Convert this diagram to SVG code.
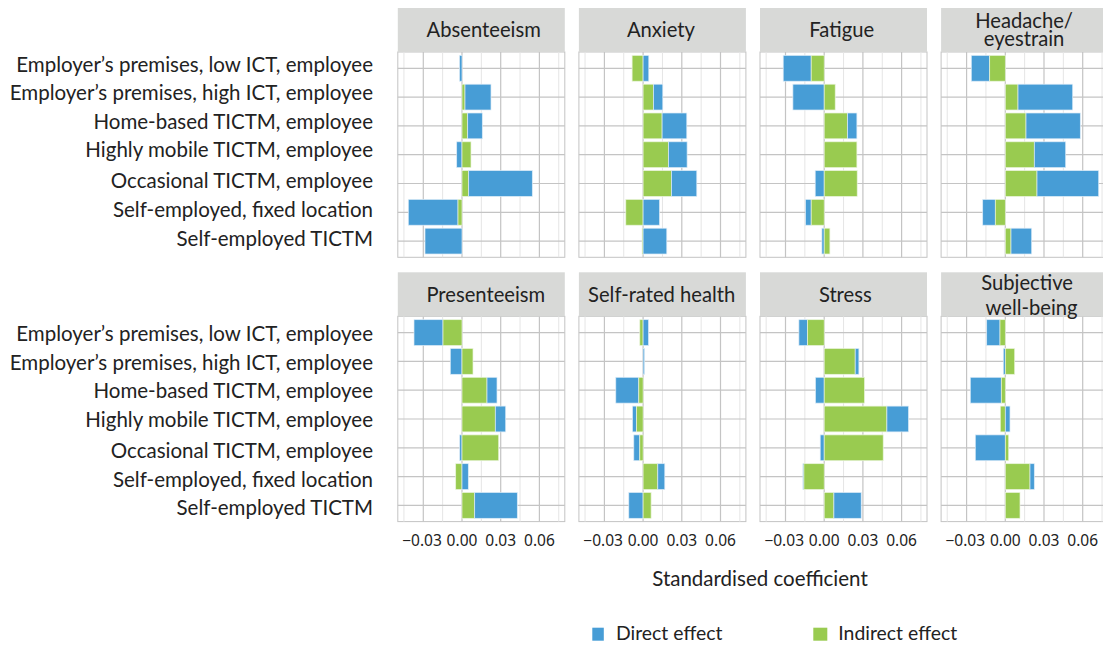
<svg xmlns="http://www.w3.org/2000/svg" width="1103" height="646" viewBox="0 0 1103 646">
<defs>
<style>
text{font-family:Lato,"Liberation Sans",sans-serif;fill:#222}
.ylab{font-size:20.5px;text-anchor:end}
.hdr{font-size:20.2px;text-anchor:middle}
.tick{font-family:"Noto Sans","Open Sans",sans-serif;font-size:15.5px;text-anchor:middle}
.ttl{font-size:20.5px;text-anchor:middle}
.leg{font-size:19.4px}
.strip{fill:#d8d9d7}
.bg{fill:#fff;stroke:#c4c4c4;stroke-width:1}
.maj{stroke:#c4c4c4;stroke-width:1.2}
.min{stroke:#e5e5e5;stroke-width:1}
.d{fill:#479dd6;stroke:#dcecf7;stroke-width:0.7}
.i{fill:#99cb50;stroke:#eaf4dc;stroke-width:0.7}
</style>
<g id="grid">
<rect class="bg" x="0" y="44" width="167" height="205.3"/>
<line class="min" x1="6.15" y1="44" x2="6.15" y2="249.3"/>
<line class="min" x1="44.85" y1="44" x2="44.85" y2="249.3"/>
<line class="min" x1="83.55" y1="44" x2="83.55" y2="249.3"/>
<line class="min" x1="122.25" y1="44" x2="122.25" y2="249.3"/>
<line class="min" x1="160.95" y1="44" x2="160.95" y2="249.3"/>
<line class="maj" x1="25.5" y1="44" x2="25.5" y2="249.3"/>
<line class="maj" x1="64.2" y1="44" x2="64.2" y2="249.3"/>
<line class="maj" x1="102.9" y1="44" x2="102.9" y2="249.3"/>
<line class="maj" x1="141.6" y1="44" x2="141.6" y2="249.3"/>
<line class="maj" x1="0" y1="60.3" x2="167" y2="60.3"/>
<line class="maj" x1="0" y1="89.1" x2="167" y2="89.1"/>
<line class="maj" x1="0" y1="117.9" x2="167" y2="117.9"/>
<line class="maj" x1="0" y1="146.7" x2="167" y2="146.7"/>
<line class="maj" x1="0" y1="175.5" x2="167" y2="175.5"/>
<line class="maj" x1="0" y1="204.3" x2="167" y2="204.3"/>
<line class="maj" x1="0" y1="233.1" x2="167" y2="233.1"/>
<rect class="strip" x="0" y="0" width="167" height="44"/>
</g>
</defs>

<g id="y-labels-top">
<text class="ylab" x="373" y="71.5">Employer’s premises, low ICT, employee</text>
<text class="ylab" x="373" y="100">Employer’s premises, high ICT, employee</text>
<text class="ylab" x="373" y="128.5">Home-based TICTM, employee</text>
<text class="ylab" x="373" y="157">Highly mobile TICTM, employee</text>
<text class="ylab" x="373" y="188">Occasional TICTM, employee</text>
<text class="ylab" x="373" y="216.5">Self-employed, fixed location</text>
<text class="ylab" x="373" y="245.5">Self-employed TICTM</text>
</g>
<g id="y-labels-bottom">
<text class="ylab" x="373" y="341">Employer’s premises, low ICT, employee</text>
<text class="ylab" x="373" y="369.5">Employer’s premises, high ICT, employee</text>
<text class="ylab" x="373" y="398">Home-based TICTM, employee</text>
<text class="ylab" x="373" y="426.5">Highly mobile TICTM, employee</text>
<text class="ylab" x="373" y="458">Occasional TICTM, employee</text>
<text class="ylab" x="373" y="486.5">Self-employed, fixed location</text>
<text class="ylab" x="373" y="515">Self-employed TICTM</text>
</g>

<g id="panel-absenteeism" transform="translate(397.8,8)">
<use href="#grid"/>
<g transform="translate(64.2,0)">
<rect class="d" x="-2.5" y="47.4" width="2.5" height="25.8"/>
<rect class="i" x="0" y="76.2" width="3" height="25.8"/><rect class="d" x="3" y="76.2" width="26" height="25.8"/>
<rect class="i" x="0" y="105" width="5.7" height="25.8"/><rect class="d" x="5.7" y="105" width="14.6" height="25.8"/>
<rect class="d" x="-5.3" y="133.8" width="5.3" height="25.8"/><rect class="i" x="0" y="133.8" width="9" height="25.8"/>
<rect class="i" x="0" y="162.6" width="6.7" height="25.8"/><rect class="d" x="6.7" y="162.6" width="63.6" height="25.8"/>
<rect class="d" x="-53.7" y="191.4" width="49.7" height="25.8"/><rect class="i" x="-4" y="191.4" width="4" height="25.8"/>
<rect class="d" x="-37" y="220.2" width="37" height="25.8"/>
</g>
<text class="hdr" x="85.9" y="29.3">Absenteeism</text>
</g>

<g id="panel-anxiety" transform="translate(578.9,8)">
<use href="#grid"/>
<g transform="translate(64.2,0)">
<rect class="i" x="-11" y="47.4" width="11" height="25.8"/><rect class="d" x="0" y="47.4" width="5.7" height="25.8"/>
<rect class="i" x="0" y="76.2" width="10.4" height="25.8"/><rect class="d" x="10.4" y="76.2" width="9.3" height="25.8"/>
<rect class="i" x="0" y="105" width="19" height="25.8"/><rect class="d" x="19" y="105" width="24.7" height="25.8"/>
<rect class="i" x="0" y="133.8" width="25.4" height="25.8"/><rect class="d" x="25.4" y="133.8" width="18.6" height="25.8"/>
<rect class="i" x="0" y="162.6" width="28.4" height="25.8"/><rect class="d" x="28.4" y="162.6" width="25.3" height="25.8"/>
<rect class="i" x="-17.3" y="191.4" width="17.3" height="25.8"/><rect class="d" x="0" y="191.4" width="16.4" height="25.8"/>
<rect class="i" x="-1" y="220.2" width="1" height="25.8"/><rect class="d" x="0" y="220.2" width="23.7" height="25.8"/>
</g>
<text class="hdr" x="82" y="29.3">Anxiety</text>
</g>

<g id="panel-fatigue" transform="translate(760,8)">
<use href="#grid"/>
<g transform="translate(64.2,0)">
<rect class="d" x="-41" y="47.4" width="28" height="25.8"/><rect class="i" x="-13" y="47.4" width="13" height="25.8"/>
<rect class="d" x="-31.3" y="76.2" width="31.3" height="25.8"/><rect class="i" x="0" y="76.2" width="11" height="25.8"/>
<rect class="i" x="0" y="105" width="23.3" height="25.8"/><rect class="d" x="23.3" y="105" width="9.4" height="25.8"/>
<rect class="i" x="0" y="133.8" width="32.7" height="25.8"/>
<rect class="d" x="-9" y="162.6" width="9" height="25.8"/><rect class="i" x="0" y="162.6" width="33" height="25.8"/>
<rect class="d" x="-18.7" y="191.4" width="5.7" height="25.8"/><rect class="i" x="-13" y="191.4" width="13" height="25.8"/>
<rect class="d" x="-2.3" y="220.2" width="2.3" height="25.8"/><rect class="i" x="0" y="220.2" width="5.7" height="25.8"/>
</g>
<text class="hdr" x="81.7" y="29.3">Fatigue</text>
</g>

<g id="panel-headache" transform="translate(941.1,8)">
<use href="#grid"/>
<g transform="translate(64.2,0)">
<rect class="d" x="-34" y="47.4" width="18.4" height="25.8"/><rect class="i" x="-15.6" y="47.4" width="15.6" height="25.8"/>
<rect class="i" x="0" y="76.2" width="12.7" height="25.8"/><rect class="d" x="12.7" y="76.2" width="54.7" height="25.8"/>
<rect class="i" x="0" y="105" width="20.7" height="25.8"/><rect class="d" x="20.7" y="105" width="54.3" height="25.8"/>
<rect class="i" x="0" y="133.8" width="29" height="25.8"/><rect class="d" x="29" y="133.8" width="31.4" height="25.8"/>
<rect class="i" x="0" y="162.6" width="31.7" height="25.8"/><rect class="d" x="31.7" y="162.6" width="61.7" height="25.8"/>
<rect class="d" x="-22.6" y="191.4" width="12.6" height="25.8"/><rect class="i" x="-10" y="191.4" width="10" height="25.8"/>
<rect class="i" x="0" y="220.2" width="5.7" height="25.8"/><rect class="d" x="5.7" y="220.2" width="20.7" height="25.8"/>
</g>
<text class="hdr" x="83" y="19.5">Headache/</text>
<text class="hdr" x="83" y="37.9">eyestrain</text>
</g>

<g id="panel-presenteeism" transform="translate(397.8,272.3)">
<use href="#grid"/>
<g transform="translate(64.2,0)">
<rect class="d" x="-48" y="47.4" width="29" height="25.8"/><rect class="i" x="-19" y="47.4" width="19" height="25.8"/>
<rect class="d" x="-11.7" y="76.2" width="11.7" height="25.8"/><rect class="i" x="0" y="76.2" width="11" height="25.8"/>
<rect class="i" x="0" y="105" width="25" height="25.8"/><rect class="d" x="25" y="105" width="10" height="25.8"/>
<rect class="i" x="0" y="133.8" width="33.3" height="25.8"/><rect class="d" x="33.3" y="133.8" width="10.4" height="25.8"/>
<rect class="d" x="-2.3" y="162.6" width="2.3" height="25.8"/><rect class="i" x="0" y="162.6" width="36.7" height="25.8"/>
<rect class="i" x="-6.3" y="191.4" width="6.3" height="25.8"/><rect class="d" x="0" y="191.4" width="6.3" height="25.8"/>
<rect class="i" x="0" y="220.2" width="12.7" height="25.8"/><rect class="d" x="12.7" y="220.2" width="42.6" height="25.8"/>
</g>
<text class="hdr" x="88" y="29.3">Presenteeism</text>
</g>

<g id="panel-self-rated-health" transform="translate(578.9,272.3)">
<use href="#grid"/>
<g transform="translate(64.2,0)">
<rect class="i" x="-3.3" y="47.4" width="3.3" height="25.8"/><rect class="d" x="0" y="47.4" width="5.4" height="25.8"/>
<rect class="d" x="0" y="76.2" width="1.4" height="25.8"/>
<rect class="d" x="-27.3" y="105" width="23" height="25.8"/><rect class="i" x="-4.3" y="105" width="4.3" height="25.8"/>
<rect class="d" x="-10.6" y="133.8" width="4" height="25.8"/><rect class="i" x="-6.6" y="133.8" width="6.6" height="25.8"/>
<rect class="d" x="-9.3" y="162.6" width="6" height="25.8"/><rect class="i" x="-3.3" y="162.6" width="3.3" height="25.8"/>
<rect class="i" x="0" y="191.4" width="14.7" height="25.8"/><rect class="d" x="14.7" y="191.4" width="7" height="25.8"/>
<rect class="d" x="-14.3" y="220.2" width="14.3" height="25.8"/><rect class="i" x="0" y="220.2" width="8" height="25.8"/>
</g>
<text class="hdr" x="82.8" y="29.3">Self-rated health</text>
</g>

<g id="panel-stress" transform="translate(760,272.3)">
<use href="#grid"/>
<g transform="translate(64.2,0)">
<rect class="d" x="-25.3" y="47.4" width="8.6" height="25.8"/><rect class="i" x="-16.7" y="47.4" width="16.7" height="25.8"/>
<rect class="i" x="0" y="76.2" width="31" height="25.8"/><rect class="d" x="31" y="76.2" width="3.7" height="25.8"/>
<rect class="d" x="-8.7" y="105" width="8.7" height="25.8"/><rect class="i" x="0" y="105" width="40.3" height="25.8"/>
<rect class="i" x="0" y="133.8" width="62.7" height="25.8"/><rect class="d" x="62.7" y="133.8" width="21.6" height="25.8"/>
<rect class="d" x="-4" y="162.6" width="4" height="25.8"/><rect class="i" x="0" y="162.6" width="59" height="25.8"/>
<rect class="d" x="-21.3" y="191.4" width="1" height="25.8"/><rect class="i" x="-20.3" y="191.4" width="20.3" height="25.8"/>
<rect class="i" x="0" y="220.2" width="9.7" height="25.8"/><rect class="d" x="9.7" y="220.2" width="27.3" height="25.8"/>
</g>
<text class="hdr" x="85.3" y="29.3">Stress</text>
</g>

<g id="panel-subjective-well-being" transform="translate(941.1,272.3)">
<use href="#grid"/>
<g transform="translate(64.2,0)">
<rect class="d" x="-18.6" y="47.4" width="13.3" height="25.8"/><rect class="i" x="-5.3" y="47.4" width="5.3" height="25.8"/>
<rect class="d" x="-2" y="76.2" width="2" height="25.8"/><rect class="i" x="0" y="76.2" width="9.4" height="25.8"/>
<rect class="d" x="-35" y="105" width="31" height="25.8"/><rect class="i" x="-4" y="105" width="4" height="25.8"/>
<rect class="i" x="-5" y="133.8" width="5" height="25.8"/><rect class="d" x="0" y="133.8" width="4.7" height="25.8"/>
<rect class="d" x="-30" y="162.6" width="30" height="25.8"/><rect class="i" x="0" y="162.6" width="3.4" height="25.8"/>
<rect class="i" x="0" y="191.4" width="24.7" height="25.8"/><rect class="d" x="24.7" y="191.4" width="4.3" height="25.8"/>
<rect class="i" x="0" y="220.2" width="14.7" height="25.8"/>
</g>
<text class="hdr" x="86" y="17.7">Subjective</text>
<text class="hdr" x="90.5" y="42.7">well-being</text>
</g>

<g id="x-axis-ticks">
<text class="tick" x="422" y="545.7">−0.03</text>
<text class="tick" x="462" y="545.7">0.00</text>
<text class="tick" x="500.7" y="545.7">0.03</text>
<text class="tick" x="539.4" y="545.7">0.06</text>
<text class="tick" x="603.1" y="545.7">−0.03</text>
<text class="tick" x="643.1" y="545.7">0.00</text>
<text class="tick" x="681.8" y="545.7">0.03</text>
<text class="tick" x="720.5" y="545.7">0.06</text>
<text class="tick" x="784.2" y="545.7">−0.03</text>
<text class="tick" x="824.2" y="545.7">0.00</text>
<text class="tick" x="862.9" y="545.7">0.03</text>
<text class="tick" x="901.6" y="545.7">0.06</text>
<text class="tick" x="965.3" y="545.7">−0.03</text>
<text class="tick" x="1005.3" y="545.7">0.00</text>
<text class="tick" x="1044" y="545.7">0.03</text>
<text class="tick" x="1082.7" y="545.7">0.06</text>
</g>
<text class="ttl" x="760" y="586">Standardised coefficient</text>

<g id="legend">
<rect x="592.3" y="627.7" width="11.5" height="13" fill="#479dd6"/>
<text class="leg" x="616" y="640">Direct effect</text>
<rect x="813.3" y="627.7" width="14" height="13" fill="#99cb50"/>
<text class="leg" x="838.3" y="640">Indirect effect</text>
</g>
<g id="connectors"/>
</svg>
